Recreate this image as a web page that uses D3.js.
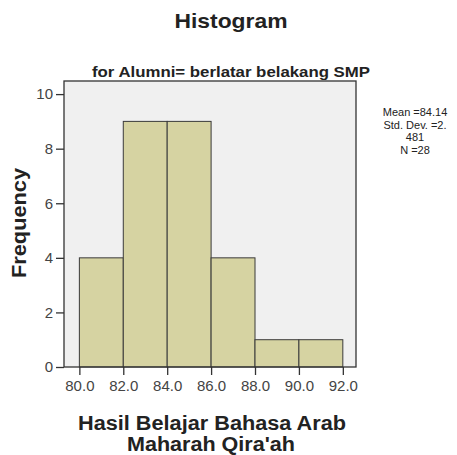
<!DOCTYPE html>
<html>
<head>
<meta charset="utf-8">
<script src="https://cdn.jsdelivr.net/npm/d3@7"></script>
<style>
  body { margin: 0; background: #fff; }
  svg { display: block; }
</style>
</head>
<body>
<svg id="chart" width="457" height="455"></svg>
<script>
// bins of the histogram (lower edge, upper edge, count)
const binStarts = [80, 82, 84, 86, 88, 90]
const binEnds = [82, 84, 86, 88, 90, 92]
const counts = [4, 9, 9, 4, 1, 1]
const xTicks = [80, 82, 84, 86, 88, 90, 92]
const yTicks = [0, 2, 4, 6, 8, 10]
const statLines = ["Mean =84.14", "Std. Dev. =2.", "481", "N =28"]

const svg = d3.select("#chart")
const margin = { top: 81, right: 101, bottom: 88, left: 64 }
const W = 457, H = 455
const innerW = W - margin.left - margin.right
const innerH = H - margin.top - margin.bottom

const x = d3.scaleLinear().domain([79.3, 92.6]).range([margin.left, W - margin.right])
const y = d3.scaleLinear().domain([0, 10.48]).range([H - margin.bottom, margin.top])

const font = "Liberation Sans, Arial, sans-serif"

// bold label, squeezed to the width it has in the picture
const label = (sel, size, width) => sel
    .style("font-family", font).style("font-weight", "bold").style("font-size", size + "px")
    .attr("fill", "#222")
    .attr("textLength", width).attr("lengthAdjust", "spacingAndGlyphs")

// plot background
svg.append("rect")
    .attr("x", margin.left).attr("y", margin.top)
    .attr("width", innerW).attr("height", innerH)
    .attr("fill", "#f0f0f0")

// bars
svg.selectAll("rect.bar")
    .data(counts)
    .join("rect")
    .attr("class", "bar")
    .attr("x", (d, i) => x(binStarts[i]))
    .attr("y", d => y(d))
    .attr("width", (d, i) => x(binEnds[i]) - x(binStarts[i]))
    .attr("height", d => y(0) - y(d))
    .attr("fill", "#d6d3a2")
    .attr("stroke", "#3a3a3a")
    .attr("stroke-width", 1)

// frame
svg.append("rect")
    .attr("x", margin.left).attr("y", margin.top)
    .attr("width", innerW).attr("height", innerH)
    .attr("fill", "none")
    .attr("stroke", "#333")
    .attr("stroke-width", 1.3)

// axes
const yAxis = d3.axisLeft(y).tickValues(yTicks).tickSize(8).tickPadding(3).tickFormat(d3.format("d"))
const gy = svg.append("g").attr("transform", `translate(${margin.left},0)`).call(yAxis)
gy.select(".domain").remove()

const xAxis = d3.axisBottom(x).tickValues(xTicks).tickSize(8).tickPadding(5).tickFormat(d3.format(".1f"))
const gx = svg.append("g").attr("transform", `translate(0,${H - margin.bottom})`).call(xAxis)
gx.select(".domain").remove()

svg.selectAll(".tick line").attr("stroke", "#333").attr("stroke-width", 1.3)
svg.selectAll(".tick text")
    .attr("fill", "#444")
    .style("font-family", font)
    .style("font-size", "15px")

// titles
label(svg.append("text")
    .attr("x", 231).attr("y", 28)
    .attr("text-anchor", "middle")
    .text("Histogram"), 21, 113)

label(svg.append("text")
    .attr("x", 231).attr("y", 77)
    .attr("text-anchor", "middle")
    .text("for Alumni= berlatar belakang SMP"), 15.5, 278)

label(svg.append("text")
    .attr("transform", "translate(26,223) rotate(-90)")
    .attr("text-anchor", "middle")
    .text("Frequency"), 21, 110)

label(svg.append("text")
    .attr("x", 212).attr("y", 430)
    .attr("text-anchor", "middle")
    .text("Hasil Belajar Bahasa Arab"), 19.5, 268)

label(svg.append("text")
    .attr("x", 211).attr("y", 451)
    .attr("text-anchor", "middle")
    .text("Maharah Qira'ah"), 19.5, 168)

// statistics box
svg.append("g").selectAll("text")
    .data(statLines)
    .join("text")
    .attr("x", 415)
    .attr("y", (d, i) => 116 + i * 12.6)
    .attr("text-anchor", "middle")
    .style("font-family", font).style("font-size", "11px")
    .attr("fill", "#222")
    .text(d => d)
</script>
</body>
</html>
